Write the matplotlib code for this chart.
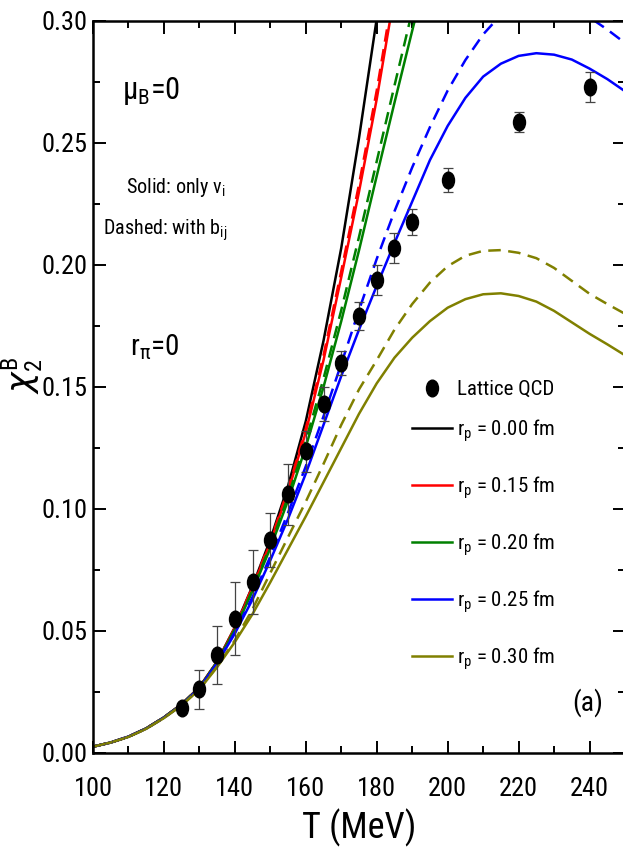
import matplotlib
matplotlib.use("Agg")
import matplotlib.pyplot as plt
import matplotlib.font_manager as fm
from matplotlib.path import Path
from matplotlib.transforms import Affine2D
from matplotlib.ticker import MultipleLocator, FormatStrFormatter


def pick_font():
    # Origin figure uses a condensed Arial, take the narrowest thing around
    names = {f.name for f in fm.fontManager.ttflist}
    for p in ['Liberation Sans Narrow', 'Arial Narrow', 'Roboto Condensed',
              'Noto Sans Condensed', 'Open Sans Condensed', 'DejaVu Sans Condensed']:
        if p in names:
            return p, 'normal'
    for base in ['Roboto', 'Noto Sans', 'Open Sans', 'DejaVu Sans']:
        for f in fm.fontManager.ttflist:
            if f.name == base and f.style == 'normal' and \
                    str(f.stretch) in ('condensed', 'semi-condensed', 'extra-condensed'):
                return base, f.stretch
    return 'Liberation Sans', 'normal'


fam, stretch = pick_font()
plt.rcParams['font.family'] = [fam, 'DejaVu Sans']
plt.rcParams['font.stretch'] = stretch

# temperature grid of the model curves (MeV)
T = [100, 105, 110, 115, 120, 125, 130, 135, 140, 145, 150, 155, 160, 165, 170,
     175, 180, 185, 190, 195, 200, 205, 210, 215, 220, 225, 230, 235, 240, 245, 250]

# solid: only v_i
r000 = [0.0026, 0.0043, 0.0067, 0.0101, 0.0146, 0.0200, 0.0270, 0.0375, 0.0515,
        0.0685, 0.0875, 0.1095, 0.1360, 0.1690, 0.2070, 0.2520, 0.3010, 0.3560]
r015 = [0.0026, 0.0043, 0.0067, 0.0101, 0.0146, 0.0200, 0.0269, 0.0373, 0.0512,
        0.0678, 0.0862, 0.1070, 0.1315, 0.1610, 0.1950, 0.2300, 0.2680, 0.3110]
r020 = [0.0026, 0.0043, 0.0067, 0.0101, 0.0146, 0.0199, 0.0268, 0.0372, 0.0505,
        0.0665, 0.0840, 0.1035, 0.1255, 0.1500, 0.1770, 0.2060, 0.2365, 0.2665,
        0.2960, 0.3250]
r025 = [0.0026, 0.0043, 0.0067, 0.0100, 0.0145, 0.0198, 0.0266, 0.0368, 0.0490,
        0.0630, 0.0790, 0.0960, 0.1145, 0.1345, 0.1545, 0.1735, 0.1915, 0.2090,
        0.2260, 0.2430, 0.2570, 0.2685, 0.2772, 0.2825, 0.2857, 0.2868, 0.2862,
        0.2842, 0.2805, 0.2762, 0.2712]
r030 = [0.0026, 0.0043, 0.0066, 0.0099, 0.0143, 0.0195, 0.0260, 0.0352, 0.0455,
        0.0570, 0.0700, 0.0835, 0.0970, 0.1110, 0.1250, 0.1390, 0.1515, 0.1620,
        0.1702, 0.1770, 0.1825, 0.1860, 0.1880, 0.1884, 0.1873, 0.1850, 0.1812,
        0.1765, 0.1718, 0.1675, 0.1630]

# dashed: with b_ij
r015_b = [0.0026, 0.0043, 0.0067, 0.0101, 0.0146, 0.0200, 0.0269, 0.0373, 0.0514,
          0.0682, 0.0868, 0.1080, 0.1330, 0.1630, 0.1975, 0.2330, 0.2715, 0.3150]
r020_b = [0.0026, 0.0043, 0.0067, 0.0101, 0.0146, 0.0200, 0.0269, 0.0373, 0.0508,
          0.0670, 0.0850, 0.1050, 0.1280, 0.1535, 0.1815, 0.2115, 0.2425, 0.2735,
          0.3040, 0.3350]
r025_b = [0.0026, 0.0043, 0.0067, 0.0100, 0.0145, 0.0198, 0.0266, 0.0369, 0.0495,
          0.0640, 0.0805, 0.0985, 0.1175, 0.1380, 0.1595, 0.1815, 0.2025, 0.2220,
          0.2400, 0.2565, 0.2715, 0.2840, 0.2945, 0.3025, 0.3080, 0.3105, 0.3100,
          0.3070, 0.3015, 0.2965, 0.2910]
r030_b = [0.0026, 0.0043, 0.0066, 0.0099, 0.0144, 0.0196, 0.0262, 0.0355, 0.0462,
          0.0590, 0.0738, 0.0885, 0.1030, 0.1185, 0.1345, 0.1490, 0.1610, 0.1735,
          0.1840, 0.1928, 0.1995, 0.2038, 0.2058, 0.2061, 0.2050, 0.2028, 0.1988,
          0.1935, 0.1882, 0.1840, 0.1800]

# lattice QCD points
T_lat = [125, 130, 135, 140, 145, 150, 155, 160, 165, 170, 175, 180, 185, 190, 200, 220, 240]
chi_lat = [0.0184, 0.0262, 0.0402, 0.0551, 0.0700, 0.0873, 0.1060, 0.1236, 0.1430,
           0.1598, 0.1790, 0.1939, 0.2070, 0.2176, 0.2348, 0.2586, 0.2730]
err_lat = [0.0020, 0.0080, 0.0120, 0.0150, 0.0130, 0.0110, 0.0125, 0.0085, 0.0070,
           0.0048, 0.0058, 0.0062, 0.0062, 0.0052, 0.0050, 0.0041, 0.0062]

labels = ['0.00', '0.15', '0.20', '0.25', '0.30']
colors = ['black', '#ff0000', '#008000', '#0000ff', '#808000']

# the symbols in the original are squeezed ellipses
ell = Path.unit_circle().transformed(Affine2D().scale(0.72, 1.0))

fig = plt.figure(figsize=(6.23, 8.65), dpi=100)
ax = fig.add_axes([93/623, 1 - 753/865, 532/623, 732/865])

solids = [r000, r015, r020, r025, r030]
dashed = [None, r015_b, r020_b, r025_b, r030_b]

ax.errorbar(T_lat, chi_lat, yerr=err_lat, fmt='none', ecolor='#444444',
            elinewidth=0.9, capsize=3.5, capthick=0.9, zorder=4)
lat, = ax.plot(T_lat, chi_lat, ls='none', marker=ell, color='black', ms=12, zorder=5,
               label='Lattice QCD')

lines = []
for vals, c, lab in zip(solids, colors, labels):
    ln, = ax.plot(T[:len(vals)], vals, '-', color=c, lw=1.8,
                  label=r'r$_\mathregular{p}$ = ' + lab + ' fm')
    lines.append(ln)
for vals, c in zip(dashed, colors):
    if vals is None:
        continue
    ax.plot(T[:len(vals)], vals, '--', color=c, lw=1.8, dashes=(5, 3))

ax.set_xlim(100, 250)
ax.set_ylim(0, 0.30)
ax.xaxis.set_major_locator(MultipleLocator(20))
ax.xaxis.set_minor_locator(MultipleLocator(10))
ax.yaxis.set_major_locator(MultipleLocator(0.05))
ax.yaxis.set_minor_locator(MultipleLocator(0.025))
ax.yaxis.set_major_formatter(FormatStrFormatter('%.2f'))
ax.tick_params(which='both', direction='in', top=True, right=True, width=1.4)
ax.tick_params(which='major', length=9, labelsize=19)
ax.tick_params(axis='x', which='major', pad=17)
ax.tick_params(axis='y', which='major', pad=4)
ax.tick_params(which='minor', length=5)
for s in ax.spines.values():
    s.set_linewidth(1.8)

ax.set_xlabel('T (MeV)', fontsize=26, labelpad=6)
ax.set_ylabel(r'$\chi_\mathregular{2}^\mathregular{B}$', fontsize=25)
ax.yaxis.set_label_coords(-0.09, 0.516)

ax.text(108.2, 0.268, r'μ$_\mathregular{B}$=0', fontsize=22)
ax.text(123.4, 0.2295, r'Solid: only v$_\mathregular{i}$', fontsize=14.5, ha='center')
ax.text(120.3, 0.2123, r'Dashed: with b$_\mathregular{ij}$', fontsize=14.5, ha='center')
ax.text(110.4, 0.163, r'r$_\mathregular{\pi}$=0', fontsize=21)
ax.text(239.4, 0.0205, '(a)', fontsize=20, ha='center', va='center')

leg1 = ax.legend(handles=[lat], loc='upper left', bbox_to_anchor=(0.5996, 0.5096),
                 frameon=False, fontsize=15, handlelength=1.9, handletextpad=0.25,
                 borderpad=0, borderaxespad=0, numpoints=1)
ax.add_artist(leg1)
ax.legend(handles=lines, loc='upper left', bbox_to_anchor=(0.5996, 0.459),
          frameon=False, fontsize=15, handlelength=1.9, handletextpad=0.25,
          labelspacing=1.45, borderpad=0, borderaxespad=0)

fig.savefig('out.png', dpi=100)
